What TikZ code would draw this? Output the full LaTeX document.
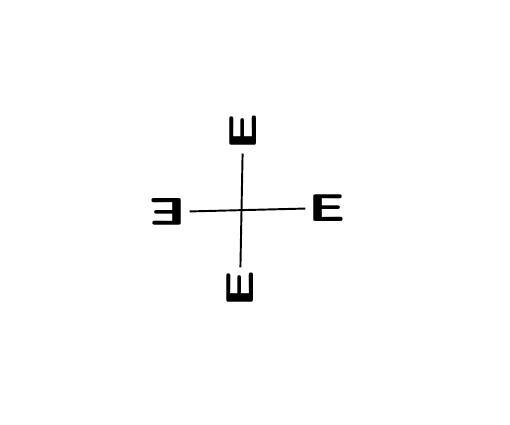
\documentclass[tikz,border=0pt]{standalone}
\usepackage{tikz}
\usetikzlibrary{positioning}

\tikzset{
    optotype/.style={inner sep=1.5pt, font=\fontsize{22}{22}\selectfont\sffamily\bfseries},
    armline/.style={line width=1.1pt}
}
\newcommand{\wideE}{\scalebox{1.5}[1]{E}}

\begin{document}
\begin{tikzpicture}
    \useasboundingbox (0,0) rectangle (10.2,8.5);
    \node[optotype, rotate=90] (up) at (4.86,5.86) {\wideE};
    \node[optotype, rotate=90] (down) at (4.80,2.72) {\wideE};
    \node[optotype, rotate=180] (left) at (3.36,4.26) {\wideE};
    \node[optotype] (right) at (6.54,4.34) {\wideE};
    \draw[armline] (up) -- (down);
    \draw[armline] (left) -- (right);
\end{tikzpicture}
\end{document}
